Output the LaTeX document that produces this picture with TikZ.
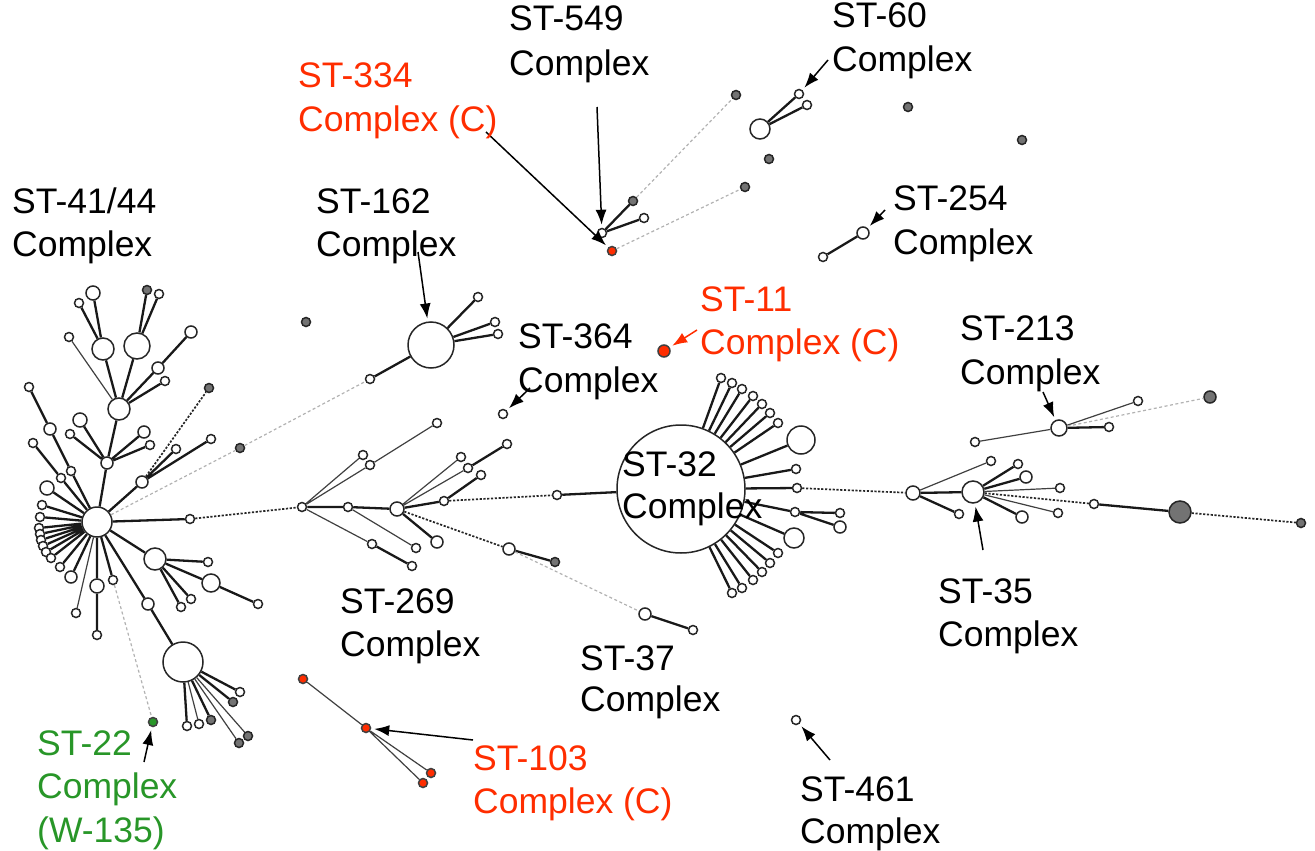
\documentclass[tikz,border=0pt]{standalone}
\usepackage{fontspec}
\setmainfont{Liberation Sans}
\usetikzlibrary{arrows.meta}
\definecolor{redc}{RGB}{255,45,0}
\definecolor{greenc}{RGB}{40,150,40}
\definecolor{grayn}{RGB}{115,115,115}
\tikzset{
  nd/.style={circle, draw=black!85, fill=white, inner sep=0pt, line width=1.5pt, minimum size=#1},
  nd/.default=9,
  gn/.style={nd=#1, fill=grayn},
  gn/.default=9,
  rn/.style={nd=#1, fill=redc, draw=black!75},
  rn/.default=9,
  grn/.style={nd=#1, fill=greenc, draw=black!75},
  grn/.default=9,
  ek/.style={line width=2.3pt, black!90},
  et/.style={line width=1.2pt, black!75},
  edd/.style={line width=1.7pt, black!85, dash pattern=on 2.2pt off 1.6pt},
  eld/.style={line width=1.2pt, black!30, dash pattern=on 3pt off 2.5pt},
  arr/.style={line width=1.5pt, -{Latex[length=15pt,width=11pt]}, shorten >=3pt},
  lbl/.style={font=\fontsize{35.5}{43}\selectfont, inner sep=0pt, anchor=base west}
}
\begin{document}
\begin{tikzpicture}[x=1pt,y=-1pt]
\useasboundingbox (0,0) rectangle (1315,851);

% ---------------- ST-41/44 cluster ----------------
\node[nd=30] (h) at (97,522) {};
\node[nd=12] (a) at (107,463) {};
\node[nd=14] (a1) at (80,420) {};
\node[nd] (a2) at (70,434) {};
\node[nd=12] (a3) at (144,432) {};
\node[nd] (a4) at (150,445) {};
\node[nd=22] (b) at (119,409) {};
\node[nd=22] (c) at (103,349) {};
\node[nd=26] (d) at (137,346) {};
\node[nd=12] (e) at (158,368) {};
\node[nd] (f) at (165,381) {};
\node[nd] (b1) at (69,337) {};
\node[nd=14] (c1) at (93,293) {};
\node[nd] (c2) at (79,303) {};
\node[gn] (d1) at (147,290) {};
\node[nd] (d2) at (159,294) {};
\node[nd=12] (e1) at (191,332) {};
\node[nd=12] (g) at (142,482) {};
\node[nd] (g1) at (176,449) {};
\node[nd] (g2) at (211,439) {};
\node[gn] (g3) at (209,388) {};
\node[gn] (gr1) at (240,448) {};
\node[nd] (k) at (190,519) {};
\node[nd=12] (l1) at (50,429) {};
\node[nd] (l1a) at (29,387) {};
\node[nd] (l2) at (71,471) {};
\node[nd] (l3) at (61,478) {};
\node[nd] (l3a) at (33,443) {};
\node[nd=14] (f1) at (47,488) {};
\node[nd] (f2) at (42,505) {};
\node[nd] (f3) at (40,517) {};
\node[nd] (f4) at (39,528) {};
\node[nd] (f5) at (40,534) {};
\node[nd] (f6) at (41,540) {};
\node[nd] (f7) at (43,546) {};
\node[nd] (f8) at (46,552) {};
\node[nd] (f9) at (51,558) {};
\node[nd] (f10) at (60,567) {};
\node[nd=12] (f11) at (71,577) {};
\node[nd=14] (f12) at (97,586) {};
\node[nd] (f12a) at (97,635) {};
\node[nd] (f13) at (113,580) {};
\node[nd] (f14) at (76,613) {};
\node[grn] (g22) at (153,722) {};
\node[nd=12] (m1) at (148,604) {};
\node[nd=40] (m) at (183,662) {};
\node[nd] (m2) at (240,692) {};
\node[gn] (m3) at (233,702) {};
\node[gn] (m4) at (248,736) {};
\node[gn] (m5) at (239,743) {};
\node[gn] (m6) at (211,720) {};
\node[nd] (m7) at (199,724) {};
\node[nd] (m8) at (187,726) {};
\node[nd=22] (n) at (155,559) {};
\node[nd] (n1) at (208,562) {};
\node[nd=18] (n2) at (211,583) {};
\node[nd] (n3) at (181,607) {};
\node[nd] (n4) at (191,599) {};
\node[nd] (n2a) at (258,604) {};
\node[gn] (iso1) at (306,322) {};

% ---------------- ST-162 ----------------
\node[nd=46] (c162) at (431,345) {};
\node[nd] (c162a) at (478,297) {};
\node[nd] (c162b) at (495,322) {};
\node[nd] (c162c) at (498,334) {};
\node[nd] (s162a) at (370,379) {};

% ---------------- ST-269 ----------------
\node[nd] (r) at (302,507) {};
\node[nd] (r1) at (363,455) {};
\node[nd] (r2) at (370,465) {};
\node[nd] (r2a) at (437,423) {};
\node[nd] (r3) at (348,507) {};
\node[nd] (r3a) at (416,548) {};
\node[nd] (r4) at (372,544) {};
\node[nd] (r4a) at (412,566) {};
\node[nd=14] (h269) at (397,509) {};
\node[nd] (p1) at (461,457) {};
\node[nd] (p2) at (468,468) {};
\node[nd] (p2a) at (507,444) {};
\node[nd] (p3) at (444,501) {};
\node[nd] (p3a) at (481,475) {};
\node[nd=12] (p4) at (437,542) {};
\node[nd=12] (q) at (509,549) {};
\node[gn] (q1) at (555,562) {};
\node[nd] (u) at (557,495) {};
\node[nd] (s364) at (503,414) {};

% ---------------- ST-37 ----------------
\node[nd=12] (s37) at (645,614) {};
\node[nd] (s37a) at (693,630) {};

% ---------------- ST-32 ----------------
\node[nd=128] (c32) at (681,489) {};
\node[nd] (t1) at (721,378) {};
\node[nd] (t2) at (732,383) {};
\node[nd] (t3) at (742,389) {};
\node[nd] (t4) at (753,396) {};
\node[nd] (t5) at (762,404) {};
\node[nd] (t6) at (770,413) {};
\node[nd] (t7) at (778,423) {};
\node[nd=28] (t8) at (801,440) {};
\node[nd] (t9) at (796,469) {};
\node[nd] (t10) at (797,488) {};
\node[nd] (t11) at (795,512) {};
\node[nd] (t11a) at (840,513) {};
\node[nd=12] (t11b) at (840,527) {};
\node[nd=20] (t12) at (794,538) {};
\node[nd] (b1x) at (778,553) {};
\node[nd] (b2x) at (770,563) {};
\node[nd] (b3x) at (762,572) {};
\node[nd] (b4x) at (753,580) {};
\node[nd] (b5x) at (742,588) {};
\node[nd] (b6x) at (732,593) {};

% ---------------- ST-35 / ST-213 ----------------
\node[nd=14] (r35) at (913,493) {};
\node[nd=22] (h35) at (973,492) {};
\node[nd] (r35a) at (991,461) {};
\node[nd] (r35b) at (959,514) {};
\node[nd] (h35a) at (1018,464) {};
\node[nd=12] (h35b) at (1026,477) {};
\node[nd] (h35c) at (1060,488) {};
\node[nd] (h35d) at (1058,513) {};
\node[nd=12] (h35e) at (1022,517) {};
\node[nd] (v) at (1094,504) {};
\node[gn=22] (vv) at (1180,512) {};
\node[gn] (vw) at (1301,523) {};
\node[nd=16] (h213) at (1059,428) {};
\node[nd] (h213a) at (975,442) {};
\node[nd] (h213b) at (1138,401) {};
\node[nd] (h213c) at (1109,427) {};
\node[gn=12] (h213d) at (1210,397) {};

% ---------------- top area ----------------
\node[nd] (x549) at (602,233) {};
\node[gn] (x549a) at (633,201) {};
\node[nd] (x549b) at (644,218) {};
\node[rn] (r334) at (612,251) {};
\node[gn] (gt1) at (736,95) {};
\node[gn] (gt2) at (745,187) {};
\node[nd=20] (w60) at (760,129) {};
\node[nd] (w60a) at (799,94) {};
\node[nd] (w60b) at (807,105) {};
\node[gn] (gt3) at (769,159) {};
\node[gn] (gt4) at (908,107) {};
\node[gn] (gt5) at (1022,140) {};
\node[nd=12] (s254) at (863,233) {};
\node[nd] (s254a) at (823,257) {};
\node[rn=12] (s11) at (664,351) {};
\node[nd] (s461) at (796,720) {};

% ---------------- ST-103 ----------------
\node[rn] (s103a) at (303,679) {};
\node[rn] (s103) at (366,728) {};
\node[rn] (s103b) at (431,773) {};
\node[rn] (s103c) at (423,783) {};

% ---------------- edges ----------------
\draw[ek] (h)--(a) (a)--(a1) (a)--(a2) (a)--(a3) (a)--(a4) (a)--(b)
  (b)--(c) (b)--(d) (b)--(e) (b)--(f) (c)--(c1) (c)--(c2) (d)--(d1) (d)--(d2) (e)--(e1)
  (h)--(g) (g)--(g1) (g)--(g2) (h)--(k)
  (h)--(l2) (l2)--(l1) (l1)--(l1a) (h)--(l3) (l3)--(l3a)
  (h)--(f1) (h)--(f2) (h)--(f3) (h)--(f4) (h)--(f5) (h)--(f6) (h)--(f7) (h)--(f8) (h)--(f9) (h)--(f10) (h)--(f11)
  (h)--(f12) (f12)--(f12a) (h)--(f13)
  (h)--(m1) (m1)--(m) (m)--(m2) (m)--(m3) (m)--(m6) (m)--(m8)
  (h)--(n) (n)--(n1) (n)--(n2) (n)--(n3) (n)--(n4) (n2)--(n2a);
\draw[et] (b)--(b1) (h)--(f14) (m)--(m4) (m)--(m5) (m)--(m7);
\draw[edd] (g)--(g3) (k)--(r);
\draw[eld] (h)--(gr1) (gr1)--(s162a) (f13)--(g22);

\draw[ek] (s162a)--(c162) (c162)--(c162a) (c162)--(c162b) (c162)--(c162c);

\draw[ek] (r)--(r3) (r3)--(h269) (r4)--(r4a) (h269)--(p3) (p3)--(p3a) (h269)--(p4) (p2)--(p2a)
  (q)--(q1) (u)--(c32) (s37)--(s37a);
\draw[et] (r)--(r1) (r)--(r2) (r2)--(r2a) (r3)--(r3a) (r)--(r4) (h269)--(p1) (h269)--(p2);
\draw[edd] (h269)--(q) (p3)--(u);
\draw[eld] (q)--(s37);

\draw[ek] (c32)--(t1) (c32)--(t2) (c32)--(t3) (c32)--(t4) (c32)--(t5) (c32)--(t6) (c32)--(t7)
  (c32)--(t8) (c32)--(t9) (c32)--(t10) (c32)--(t11) (t11)--(t11a) (t11)--(t11b) (c32)--(t12)
  (c32)--(b1x) (c32)--(b2x) (c32)--(b3x) (c32)--(b4x) (c32)--(b5x) (c32)--(b6x);
\draw[edd] (t10)--(r35);

\draw[ek] (r35)--(h35) (r35)--(r35b) (h35)--(h35a) (h35)--(h35b) (h35)--(h35e) (v)--(vv)
  (h213)--(h213c);
\draw[et] (r35)--(r35a) (h35)--(h35c) (h35)--(h35d) (h213)--(h213a) (h213)--(h213b);
\draw[edd] (h35)--(v) (vv)--(vw);
\draw[eld] (h213)--(h213d);

\draw[ek] (x549)--(x549a) (x549)--(x549b) (w60)--(w60a) (w60)--(w60b) (s254)--(s254a);
\draw[eld] (x549a)--(gt1) (r334)--(gt2);

\draw[et] (s103a)--(s103) (s103)--(s103b) (s103)--(s103c);

% ---------------- arrows ----------------
\coordinate (ka162) at (418,252);
\coordinate (ka549) at (597,107);
\coordinate (ka334) at (486,132);
\coordinate (ka60) at (828,60);
\coordinate (ka254) at (885,210);
\coordinate (ka11) at (697,330);
\coordinate (ka364) at (530,388);
\coordinate (ka213) at (1043,392);
\coordinate (ka35) at (983,550);
\coordinate (ka22) at (144,762);
\coordinate (ka103) at (473,740);
\coordinate (ka461) at (830,760);
\draw[arr] (ka162)--(c162);
\draw[arr] (ka549)--(x549);
\draw[arr] (ka334)--(r334);
\draw[arr] (ka60)--(w60a);
\draw[arr] (ka254)--(s254);
\draw[arr, redc] (ka11)--(s11);
\draw[arr] (ka364)--(s364);
\draw[arr] (ka213)--(h213);
\draw[arr] (ka35)--(h35);
\draw[arr] (ka22)--(g22);
\draw[arr] (ka103)--(s103);
\draw[arr] (ka461)--(s461);

% ---------------- labels ----------------
\node[lbl] (t4144a) at (12,213) {ST-41/44};
\node[lbl] (t4144b) at (12,256) {Complex};
\node[lbl] (t162a) at (316,213) {ST-162};
\node[lbl] (t162b) at (316,256) {Complex};
\node[lbl] (t549a) at (509,31) {ST-549};
\node[lbl] (t549b) at (509,75) {Complex};
\node[lbl, redc] (t334a) at (298,88) {ST-334};
\node[lbl, redc] (t334b) at (298,131) {Complex (C)};
\node[lbl] (t60a) at (832,28) {ST-60};
\node[lbl] (t60b) at (832,72) {Complex};
\node[lbl] (t254a) at (893,210) {ST-254};
\node[lbl] (t254b) at (893,254) {Complex};
\node[lbl, redc] (t11a) at (700,311) {ST-11};
\node[lbl, redc] (t11b) at (700,354) {Complex (C)};
\node[lbl] (t364a) at (518,348) {ST-364};
\node[lbl] (t364b) at (518,392) {Complex};
\node[lbl] (t213a) at (960,340) {ST-213};
\node[lbl] (t213b) at (960,384) {Complex};
\node[lbl] (t32a) at (622,476) {ST-32};
\node[lbl] (t32b) at (622,518) {Complex};
\node[lbl] (t269a) at (340,613) {ST-269};
\node[lbl] (t269b) at (340,656) {Complex};
\node[lbl] (t37a) at (580,670) {ST-37};
\node[lbl] (t37b) at (580,711) {Complex};
\node[lbl] (t35a) at (938,603) {ST-35};
\node[lbl] (t35b) at (938,646) {Complex};
\node[lbl, greenc] (t22a) at (37,755) {ST-22};
\node[lbl, greenc] (t22b) at (37,798) {Complex};
\node[lbl, greenc] (t22c) at (37,842) {(W-135)};
\node[lbl, redc] (t103a) at (473,770) {ST-103};
\node[lbl, redc] (t103b) at (473,813) {Complex (C)};
\node[lbl] (t461a) at (800,801) {ST-461};
\node[lbl] (t461b) at (800,843) {Complex};
\end{tikzpicture}
\end{document}
